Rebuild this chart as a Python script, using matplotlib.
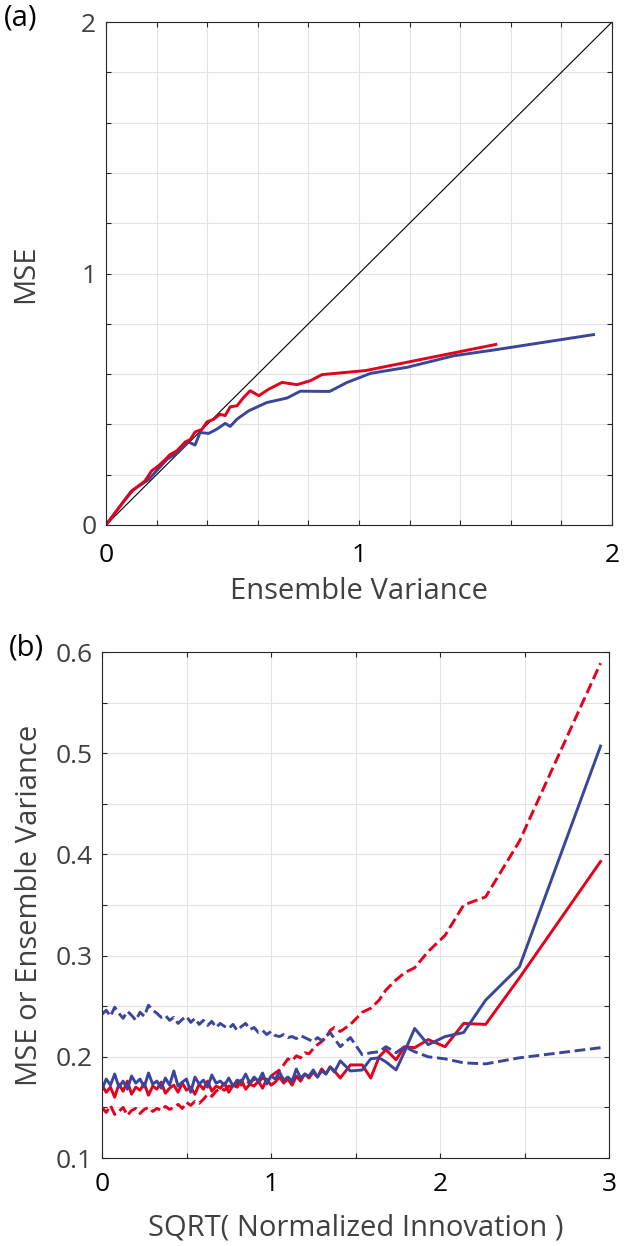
import matplotlib
matplotlib.use("Agg")
import matplotlib.pyplot as plt
import numpy as np

plt.rcParams['font.family'] = ['Open Sans', 'DejaVu Sans']

RED = '#e5001c'
BLUE = '#3a469c'
LABEL_C = '#404040'
SPINE_C = '#262626'
GRID_C = '#e3e3e3'

# ---------------- Panel (a) data ----------------
a_red_x = [0.0, 0.075, 0.108, 0.154, 0.18, 0.207, 0.234, 0.253, 0.28, 0.313, 0.333, 0.352,
           0.379, 0.399, 0.425, 0.451, 0.471, 0.491, 0.518, 0.544, 0.57, 0.604, 0.643,
           0.696, 0.755, 0.808, 0.854, 1.026, 1.541]
a_red_y = [0.0, 0.10, 0.14, 0.175, 0.215, 0.235, 0.26, 0.28, 0.295, 0.33, 0.34, 0.37,
           0.38, 0.41, 0.42, 0.44, 0.435, 0.47, 0.474, 0.507, 0.534, 0.514, 0.54,
           0.567, 0.558, 0.574, 0.598, 0.614, 0.718]

a_blue_x = [0.0, 0.10, 0.168, 0.24, 0.286, 0.326, 0.352, 0.372, 0.405, 0.438, 0.471, 0.491,
            0.518, 0.564, 0.636, 0.716, 0.768, 0.884, 0.953, 1.046, 1.19, 1.375, 1.534, 1.927]
a_blue_y = [0.0, 0.135, 0.18, 0.26, 0.29, 0.33, 0.318, 0.368, 0.364, 0.381, 0.404, 0.392,
            0.421, 0.454, 0.487, 0.505, 0.532, 0.531, 0.567, 0.603, 0.627, 0.673, 0.696, 0.757]

diag_x = [0.0, 2.0]
diag_y = [0.0, 2.0]

# ---------------- Panel (b) data ----------------
b_x = [0.0, 0.025, 0.05, 0.075, 0.1, 0.125, 0.15, 0.175, 0.2, 0.225, 0.25, 0.275,
       0.3, 0.325, 0.35, 0.375, 0.4, 0.425, 0.45, 0.475, 0.5, 0.525, 0.55, 0.575,
       0.6, 0.625, 0.65, 0.675, 0.7, 0.725, 0.75, 0.775, 0.8, 0.825, 0.85, 0.875,
       0.9, 0.925, 0.95, 0.975, 1.0, 1.025, 1.05, 1.075, 1.1, 1.125, 1.15, 1.175,
       1.2, 1.225, 1.25, 1.275, 1.3, 1.325, 1.35, 1.375,
       1.41, 1.47, 1.54, 1.59, 1.64, 1.68, 1.74, 1.79, 1.85, 1.93, 2.03, 2.14,
       2.27, 2.47, 2.95]

b_red_dash = [0.150, 0.145, 0.152, 0.143, 0.146, 0.150, 0.142, 0.147, 0.149, 0.144, 0.148, 0.150,
              0.146, 0.149, 0.147, 0.151, 0.148, 0.150, 0.153, 0.149, 0.155, 0.152, 0.156, 0.154,
              0.158, 0.163, 0.161, 0.166, 0.169, 0.167, 0.171, 0.170, 0.174, 0.172, 0.176, 0.174,
              0.178, 0.175, 0.179, 0.177, 0.181, 0.184, 0.187, 0.192, 0.198, 0.196, 0.201, 0.199,
              0.204, 0.203, 0.208, 0.212, 0.215, 0.219, 0.226, 0.229,
              0.225, 0.232, 0.244, 0.248, 0.256, 0.266, 0.276, 0.283, 0.288, 0.304, 0.320, 0.350,
              0.358, 0.413, 0.589]

b_red_solid = [0.172, 0.165, 0.170, 0.160, 0.173, 0.166, 0.176, 0.163, 0.170, 0.167, 0.174, 0.162,
               0.171, 0.168, 0.175, 0.164, 0.169, 0.172, 0.165, 0.174, 0.167, 0.170, 0.163, 0.173,
               0.168, 0.176, 0.166, 0.171, 0.169, 0.174, 0.165, 0.172, 0.170, 0.177, 0.168, 0.173,
               0.171, 0.176, 0.169, 0.178, 0.172, 0.175, 0.180, 0.174, 0.178, 0.172, 0.181, 0.176,
               0.183, 0.179, 0.185, 0.180, 0.188, 0.183, 0.190, 0.186,
               0.179, 0.192, 0.192, 0.179, 0.200, 0.207, 0.197, 0.210, 0.209, 0.217, 0.210, 0.233,
               0.232, 0.278, 0.393]

b_blue_solid = [0.168, 0.178, 0.172, 0.183, 0.170, 0.176, 0.168, 0.181, 0.174, 0.178, 0.170, 0.184,
                0.173, 0.176, 0.169, 0.179, 0.172, 0.186, 0.171, 0.175, 0.178, 0.165, 0.180, 0.173,
                0.177, 0.170, 0.182, 0.174, 0.176, 0.172, 0.179, 0.171, 0.177, 0.175, 0.183, 0.174,
                0.180, 0.176, 0.184, 0.173, 0.181, 0.178, 0.185, 0.177, 0.180, 0.176, 0.188, 0.179,
                0.183, 0.181, 0.187, 0.180, 0.186, 0.183, 0.190, 0.185,
                0.196, 0.186, 0.187, 0.198, 0.199, 0.195, 0.187, 0.205, 0.228, 0.212, 0.220, 0.224,
                0.256, 0.289, 0.507]

b_blue_dash = [0.242, 0.246, 0.240, 0.249, 0.243, 0.238, 0.245, 0.241, 0.236, 0.244, 0.240, 0.251,
               0.246, 0.243, 0.239, 0.241, 0.236, 0.239, 0.233, 0.237, 0.240, 0.234, 0.238, 0.232,
               0.236, 0.231, 0.235, 0.229, 0.233, 0.230, 0.228, 0.232, 0.226, 0.230, 0.233, 0.227,
               0.229, 0.224, 0.226, 0.222, 0.225, 0.221, 0.220, 0.222, 0.219, 0.220, 0.218, 0.221,
               0.219, 0.217, 0.215, 0.219, 0.216, 0.220, 0.224, 0.218,
               0.210, 0.219, 0.202, 0.204, 0.205, 0.210, 0.204, 0.210, 0.205, 0.200, 0.198, 0.194,
               0.193, 0.199, 0.209]

a_xticks = [0, 0.2, 0.4, 0.6, 0.8, 1.0, 1.2, 1.4, 1.6, 1.8, 2.0]
a_yticks = a_xticks
a_labels = ['0', '', '', '', '', '1', '', '', '', '', '2']
b_xticks = [0, 0.5, 1.0, 1.5, 2.0, 2.5, 3.0]
b_xlabels = ['0', '', '1', '', '2', '', '3']
b_yticks = [0.1, 0.15, 0.2, 0.25, 0.3, 0.35, 0.4, 0.45, 0.5, 0.55, 0.6]
b_ylabels = ['0.1', '', '0.2', '', '0.3', '', '0.4', '', '0.5', '', '0.6']

W, H = 626, 1246
fig = plt.figure(figsize=(W / 100, H / 100), dpi=100)

def px_axes(l, t, r, b):
    return fig.add_axes([l / W, 1 - b / H, (r - l) / W, (b - t) / H])

def style(ax, xpad):
    for s in ax.spines.values():
        s.set_color(SPINE_C)
        s.set_linewidth(0.8)
    ax.grid(True, color=GRID_C, linewidth=0.8)
    ax.set_axisbelow(True)
    ax.tick_params(direction='in', length=3.5, width=0.8, color=SPINE_C,
                   top=True, right=True, labelsize=19)
    ax.tick_params(axis='x', labelcolor='black', pad=xpad)
    ax.tick_params(axis='y', labelcolor=LABEL_C, pad=7)

LBL = 21
LW = 2.1

# Panel (a)
ax1 = px_axes(106, 22, 612, 525)
ax1.plot(diag_x, diag_y, color='black', linewidth=0.8)
ax1.plot(a_blue_x, a_blue_y, color=BLUE, linewidth=LW)
ax1.plot(a_red_x, a_red_y, color=RED, linewidth=LW)
ax1.set_xlim(0, 2)
ax1.set_ylim(0, 2)
ax1.set_xticks(a_xticks)
ax1.set_xticklabels(a_labels)
ax1.set_yticks(a_yticks)
ax1.set_yticklabels(a_labels)
style(ax1, 13)
ax1.set_xlabel('Ensemble Variance', fontsize=LBL, color=LABEL_C)
ax1.set_ylabel('MSE', fontsize=LBL, color=LABEL_C)
ax1.xaxis.set_label_coords(0.5, -0.104)
ax1.yaxis.set_label_coords(-0.13, 0.5)

# Panel (b)
ax2 = px_axes(102, 652, 609, 1158)
ax2.plot(b_x, b_red_dash, color=RED, linewidth=LW, linestyle='--')
ax2.plot(b_x, b_red_solid, color=RED, linewidth=LW)
ax2.plot(b_x, b_blue_dash, color=BLUE, linewidth=LW, linestyle='--')
ax2.plot(b_x, b_blue_solid, color=BLUE, linewidth=LW)
ax2.set_xlim(0, 3)
ax2.set_ylim(0.1, 0.6)
ax2.set_xticks(b_xticks)
ax2.set_xticklabels(b_xlabels)
ax2.set_yticks(b_yticks)
ax2.set_yticklabels(b_ylabels)
style(ax2, 10)
ax2.set_xlabel('SQRT( Normalized Innovation )', fontsize=LBL, color=LABEL_C)
ax2.set_ylabel('MSE or Ensemble Variance', fontsize=LBL, color=LABEL_C)
ax2.xaxis.set_label_coords(0.5, -0.11)
ax2.yaxis.set_label_coords(-0.115, 0.5)

fig.text(4 / W, 1 - 18 / H, '(a)', fontsize=21, color='black', va='center', ha='left')
fig.text(9 / W, 1 - 648 / H, '(b)', fontsize=21, color='black', va='center', ha='left')

fig.savefig('out.png', dpi=100)
